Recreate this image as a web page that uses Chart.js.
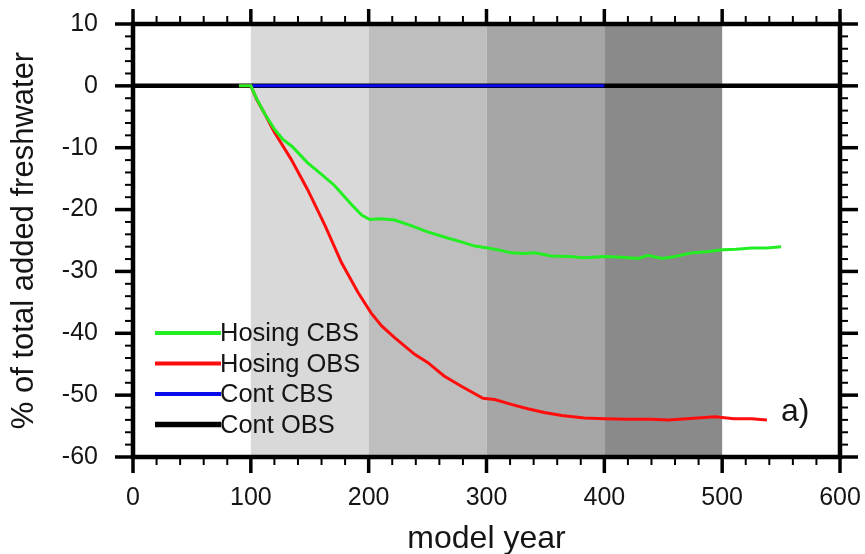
<!DOCTYPE html>
<html><head><meta charset="utf-8">
<script src="https://cdn.jsdelivr.net/npm/chart.js@4.4.1/dist/chart.umd.min.js"></script>
<style>html,body{margin:0;padding:0;background:#fff;}#wrap{width:865px;height:554px;position:relative;}</style>
</head><body><div id="wrap"><canvas id="c"></canvas></div>
<script>
// ---- data ----
const hosingCbsYears  = [90,100,105,112,120,127,135,148,160,171,185,194,201,210,222,236,250,267,280,290,301,312,321,331,341,355,370,383,400,415,429,437,449,460,474,487,500,512,525,538,550];
const hosingCbsValues = [0,0,-2.1,-4.6,-7.0,-8.6,-9.8,-12.4,-14.3,-16.1,-19.1,-20.9,-21.6,-21.5,-21.7,-22.6,-23.6,-24.6,-25.3,-25.9,-26.2,-26.6,-27.0,-27.1,-27.0,-27.5,-27.6,-27.8,-27.6,-27.7,-27.9,-27.4,-27.9,-27.6,-27.0,-26.8,-26.5,-26.4,-26.2,-26.2,-26.0];
const hosingObsYears  = [90,100,105,112,120,134,148,163,177,191,202,211,222,239,250,264,279,297,307,321,335,349,364,383,400,420,440,454,470,494,510,525,538];
const hosingObsValues = [0,0,-2.2,-4.6,-7.5,-11.8,-16.7,-22.6,-28.6,-33.4,-36.7,-38.8,-40.7,-43.4,-44.7,-46.9,-48.6,-50.5,-50.7,-51.5,-52.2,-52.8,-53.3,-53.7,-53.8,-53.9,-53.9,-54.0,-53.8,-53.5,-53.8,-53.8,-54.0];
const contCbsYears  = [100,150,200,250,300,350,400];
const contCbsValues = [0,0,0,0,0,0,0];
const contObsYears  = [0,50,100,150,200,250,300,350,400,450,500,550,600];
const contObsValues = [0,0,0,0,0,0,0,0,0,0,0,0,0];
const seriesLabels  = ['Hosing CBS','Hosing OBS','Cont CBS','Cont OBS'];
const bandStarts = [100,200,300,400];
const bandEnds   = [200,300,400,500];
const xTickValues = [0,100,200,300,400,500,600];
const yTickValues = [10,0,-10,-20,-30,-40,-50,-60];
const xMinorStep = 20, yMinorStep = 2;
const panelLabel = 'a)';

// ---- styles ----
const seriesColors = ['#22ee22','#ff0d0d','#0a0aee','#000000'];
const seriesWidths = [3,3,3,4.5];
const bandColors = ['#d9d9d9','#bebebe','#a6a6a6','#8a8a8a'];
const FONT = '"Liberation Sans", Arial, Helvetica, sans-serif';
const TXT = '#151515';

const toPts = (xs, ys) => xs.map((x, i) => ({x: x, y: ys[i]}));

const bandsPlugin = {
  id: 'bands',
  beforeDatasetsDraw(chart) {
    const {ctx, chartArea: a, scales: {x}} = chart;
    ctx.save();
    bandStarts.forEach((s, i) => {
      const x0 = x.getPixelForValue(s), x1 = x.getPixelForValue(bandEnds[i]);
      ctx.fillStyle = bandColors[i];
      ctx.fillRect(x0, a.top, x1 - x0, a.bottom - a.top);
    });
    ctx.restore();
  }
};

const framePlugin = {
  id: 'frame',
  afterDatasetsDraw(chart) {
    const {ctx, chartArea: a, scales: {x, y}} = chart;
    ctx.save();
    ctx.strokeStyle = '#000';
    ctx.lineCap = 'butt';
    const line = (x0, y0, x1, y1) => { ctx.beginPath(); ctx.moveTo(x0, y0); ctx.lineTo(x1, y1); ctx.stroke(); };
    // minor ticks
    ctx.lineWidth = 2;
    for (let v = x.min; v <= x.max; v += xMinorStep) {
      const p = x.getPixelForValue(v);
      line(p, a.top, p, a.top - 8); line(p, a.bottom, p, a.bottom + 8);
    }
    for (let v = y.min; v <= y.max; v += yMinorStep) {
      const p = y.getPixelForValue(v);
      line(a.left, p, a.left - 8, p); line(a.right, p, a.right + 8, p);
    }
    // major ticks
    ctx.lineWidth = 3.5;
    xTickValues.forEach(v => { const p = x.getPixelForValue(v); line(p, a.top, p, a.top - 15); line(p, a.bottom, p, a.bottom + 16); });
    yTickValues.forEach(v => { const p = y.getPixelForValue(v); line(a.left, p, a.left - 18, p); line(a.right, p, a.right + 18, p); });
    // frame
    ctx.lineWidth = 4.5;
    ctx.strokeRect(a.left, a.top, a.right - a.left, a.bottom - a.top);

    // legend
    ctx.font = '25.5px ' + FONT;
    ctx.textBaseline = 'middle';
    ctx.textAlign = 'left';
    const ds = chart.data.datasets;
    const rowY = [333, 363.5, 394, 424.5];
    ds.forEach((d, i) => {
      ctx.strokeStyle = d.borderColor;
      ctx.lineWidth = d.borderWidth + 1;
      line(155, rowY[i], 221, rowY[i]);
      ctx.fillStyle = TXT;
      ctx.fillText(d.label, 220, rowY[i] + 1);
    });
    // panel label
    ctx.font = '32px ' + FONT;
    ctx.fillText(panelLabel, 781, 412);
    ctx.restore();
  }
};

const chart = new Chart(document.getElementById('c'), {
  type: 'line',
  data: {
    datasets: [
      {label: seriesLabels[0], data: toPts(hosingCbsYears, hosingCbsValues), borderColor: seriesColors[0], borderWidth: seriesWidths[0], order: 0},
      {label: seriesLabels[1], data: toPts(hosingObsYears, hosingObsValues), borderColor: seriesColors[1], borderWidth: seriesWidths[1], order: 1},
      {label: seriesLabels[2], data: toPts(contCbsYears, contCbsValues), borderColor: seriesColors[2], borderWidth: seriesWidths[2], order: 2},
      {label: seriesLabels[3], data: toPts(contObsYears, contObsValues), borderColor: seriesColors[3], borderWidth: seriesWidths[3], order: 3}
    ]
  },
  options: {
    responsive: true,
    maintainAspectRatio: false,
    animation: false,
    devicePixelRatio: 1,
    layout: {autoPadding: false, padding: {left: 0, right: 25, top: 24, bottom: 0}},
    elements: {point: {radius: 0}, line: {tension: 0, fill: false}},
    plugins: {legend: {display: false}, tooltip: {enabled: false}},
    scales: {
      x: {
        type: 'linear', min: 0, max: 600,
        afterBuildTicks: s => { s.ticks = xTickValues.map(v => ({value: v})); },
        afterFit: s => { s.height = 97; s.paddingLeft = 0; s.paddingRight = 0; s.paddingTop = 0; s.paddingBottom = 0; },
        grid: {display: false, drawTicks: false},
        border: {display: false},
        ticks: {font: {family: FONT, size: 25}, color: TXT, padding: 26, maxRotation: 0},
        title: {display: true, text: 'model year', font: {family: FONT, size: 32, lineHeight: 0.95}, color: TXT, padding: {top: 0, bottom: 0}}
      },
      y: {
        type: 'linear', min: -60, max: 10,
        afterBuildTicks: s => { s.ticks = yTickValues.map(v => ({value: v})); },
        afterFit: s => { s.width = 133; s.paddingLeft = 0; s.paddingRight = 0; s.paddingTop = 0; s.paddingBottom = 0; },
        grid: {display: false, drawTicks: false},
        border: {display: false},
        ticks: {font: {family: FONT, size: 25}, color: TXT, padding: 35},
        title: {display: true, text: '% of total added freshwater', font: {family: FONT, size: 31}, color: TXT, padding: {top: 6, bottom: 0}}
      }
    }
  },
  plugins: [bandsPlugin, framePlugin]
});
</script>
</body></html>
